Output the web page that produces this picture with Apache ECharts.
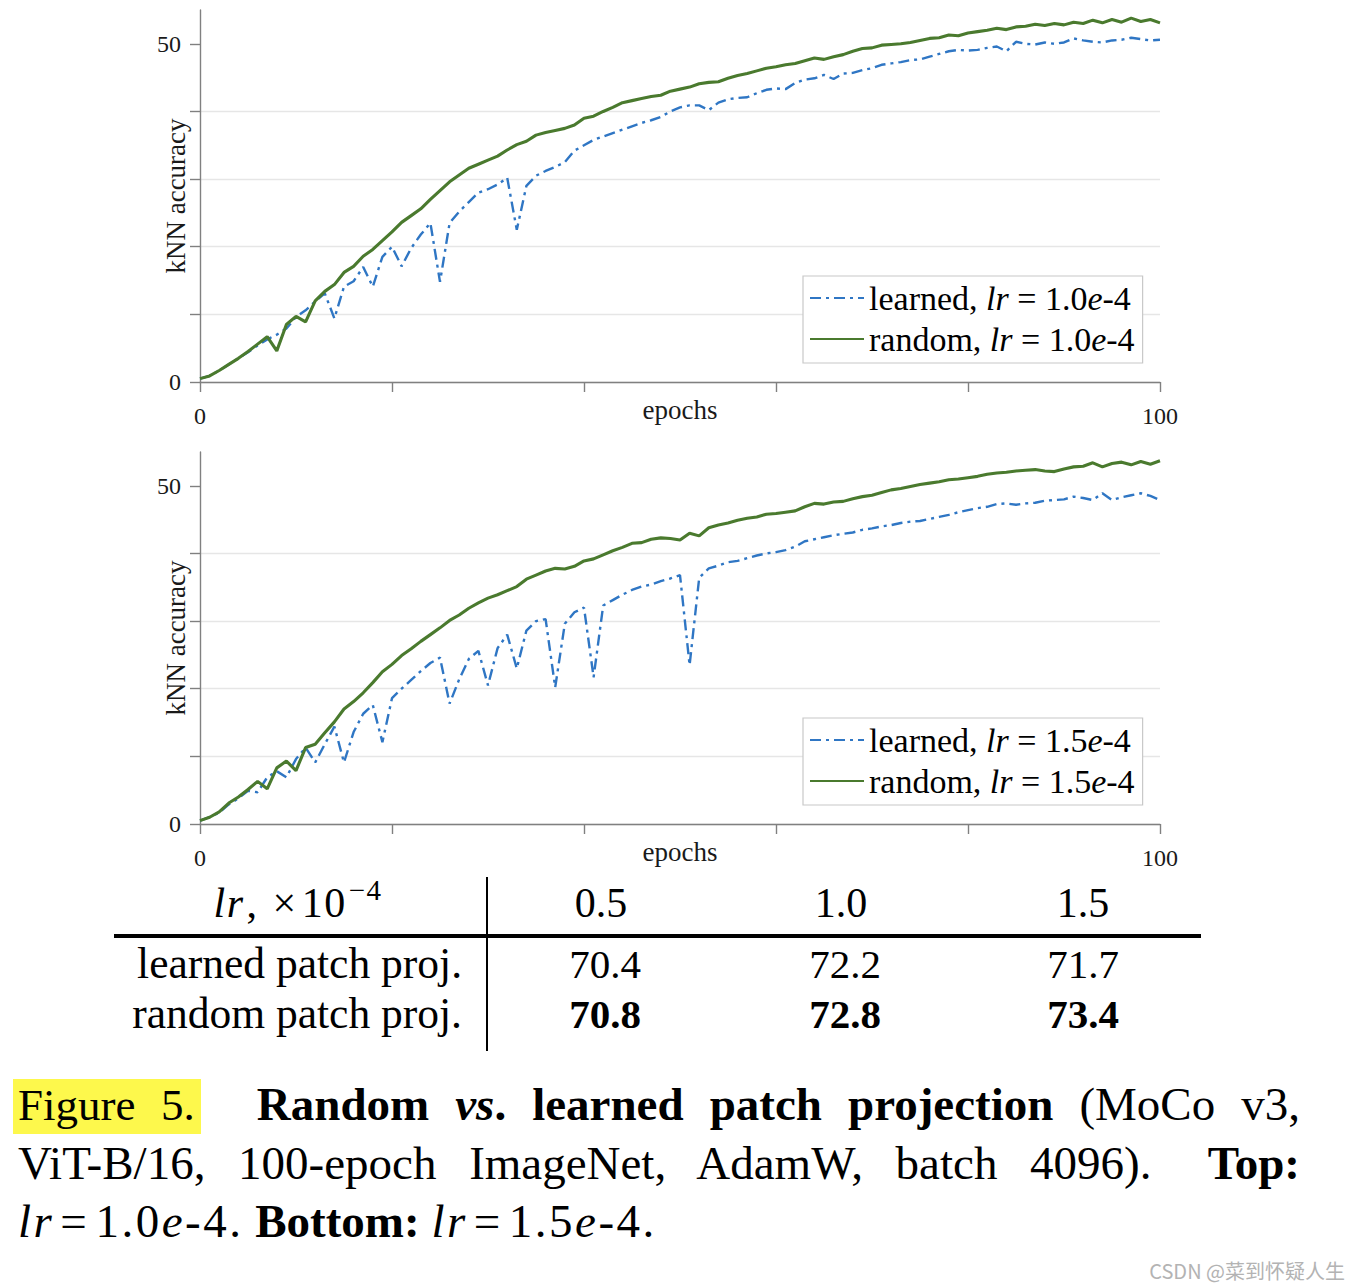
<!DOCTYPE html>
<html>
<head>
<meta charset="utf-8">
<script src="https://cdn.jsdelivr.net/npm/echarts@6/dist/echarts.min.js"></script>
<style>
html,body{margin:0;padding:0;background:#fff;}
body{width:1358px;height:1288px;position:relative;overflow:hidden;font-family:'Liberation Serif','Times New Roman',serif;color:#000;}
#chart{position:absolute;left:0;top:0;width:1358px;height:880px;}
.abs{position:absolute;white-space:nowrap;}
.hdr{font-size:42px;line-height:42px;top:882px;}
.row{font-size:41px;line-height:41px;}
.lab{font-size:43.5px;line-height:43.5px;left:0;width:462px;text-align:right;}
.c{text-align:center;width:200px;}
.cap{position:absolute;left:18px;width:1282px;font-size:47px;line-height:47px;text-align:justify;text-align-last:justify;}
.hl{background:#fdf84c;font-size:45px;padding:1px 6px 4px 5px;margin-left:-5px;margin-right:30px;}
.m{letter-spacing:2.5px;}
.eq{margin:0 6px;}
</style>
</head>
<body>
<div id="chart"></div>

<!-- table -->
<div class="abs" style="left:486px;top:877px;width:2px;height:174px;background:#000"></div>
<div class="abs" style="left:114px;top:934px;width:1087px;height:4px;background:#000"></div>
<div class="abs hdr" style="left:148px;width:300px;text-align:center;letter-spacing:1.5px"><i style="margin-right:2px">lr</i>,<span style="margin:0 4px 0 14px">×</span>10<span style="font-size:29px;position:relative;top:-17px;margin-left:2px">−4</span></div>
<div class="abs hdr c" style="left:501px">0.5</div>
<div class="abs hdr c" style="left:741px">1.0</div>
<div class="abs hdr c" style="left:983px">1.5</div>

<div class="abs lab" style="top:942px">learned patch proj.</div>
<div class="abs row c" style="left:505px;top:944px">70.4</div>
<div class="abs row c" style="left:745px;top:944px">72.2</div>
<div class="abs row c" style="left:983px;top:944px">71.7</div>

<div class="abs lab" style="top:992px">random patch proj.</div>
<div class="abs row c" style="left:505px;top:994px;font-weight:bold">70.8</div>
<div class="abs row c" style="left:745px;top:994px;font-weight:bold">72.8</div>
<div class="abs row c" style="left:983px;top:994px;font-weight:bold">73.4</div>

<!-- caption -->
<div class="cap" style="top:1081px"><span class="hl">Figure 5.</span> <b>Random <i>vs</i>. learned patch projection</b> (MoCo v3,</div>
<div class="cap" style="top:1140px">ViT-B/16, 100-epoch ImageNet, AdamW, batch 4096).&ensp; <b>Top:</b></div>
<div class="cap" style="top:1198px;text-align:left;text-align-last:left"><span class="m"><i>lr</i><span class="eq">=</span>1.0<i>e</i>-4.</span> <b>Bottom:</b> <span class="m"><i>lr</i><span class="eq">=</span>1.5<i>e</i>-4.</span></div>

<div class="abs" style="right:13px;top:1259px;font-family:'Noto Sans CJK SC','Noto Sans',sans-serif;font-size:20px;line-height:24px;color:#b3b3b3">CSDN @菜到怀疑人生</div>

<script>
// ---- data (index = epoch 0..100) ----
const X_TICK_LABELS = [0, 100];
const Y_TICK_LABELS = [0, 50];
const Y_TICKS = [0, 10, 20, 30, 40, 50];

const TOP_LEARNED = [
0.5,0.9,1.7,2.6,3.5,4.4,5.4,6.3,7.0,7.9,
9.6,10.6,11.9,13.1,9.4,14.1,14.9,17.0,14.1,18.5,
20.0,17.1,19.8,21.8,23.5,14.8,23.5,25.2,26.6,28.0,
28.5,29.2,30.2,22.5,29.0,30.5,31.2,31.8,32.5,34.2,
35.0,35.8,36.3,36.8,37.3,37.8,38.3,38.7,39.2,40.0,
40.6,40.9,40.9,40.2,41.3,41.8,42.0,42.1,42.7,43.2,
43.4,43.3,44.2,44.7,44.9,45.4,44.8,45.6,45.7,46.1,
46.4,46.9,47.1,47.3,47.6,47.7,48.1,48.5,48.9,49.1,
49.0,49.1,49.4,49.6,48.9,50.3,50.0,49.9,50.2,50.0,
50.2,50.8,50.5,50.3,50.2,50.5,50.6,50.9,50.7,50.5,50.6];

const TOP_RANDOM = [
0.5,0.9,1.7,2.6,3.5,4.5,5.6,6.7,4.6,8.5,
9.7,8.9,12.0,13.4,14.4,16.2,17.1,18.6,19.6,20.9,
22.2,23.6,24.6,25.6,27.0,28.3,29.6,30.6,31.6,32.2,
32.8,33.4,34.3,35.1,35.6,36.5,36.9,37.2,37.5,38.0,
39.0,39.3,40.0,40.6,41.3,41.6,41.9,42.2,42.4,43.0,
43.3,43.6,44.1,44.3,44.4,44.9,45.3,45.6,46.0,46.4,
46.6,46.9,47.1,47.5,47.9,47.7,48.1,48.4,48.9,49.3,
49.4,49.8,49.9,50.0,50.2,50.5,50.8,50.9,51.3,51.2,
51.6,51.8,52.0,52.3,52.1,52.5,52.6,52.9,52.7,53.0,
52.8,53.2,53.0,53.5,53.1,53.6,53.2,53.8,53.3,53.6,53.1];

const BOTTOM_LEARNED = [
0.5,1.0,1.7,2.9,3.8,4.9,4.7,6.9,7.8,6.9,
9.6,11.3,9.1,11.8,14.4,9.1,13.6,16.3,17.6,12.1,
18.6,20.0,21.3,22.6,23.8,24.6,17.8,21.4,24.4,25.6,
20.5,26.0,28.0,23.0,28.6,30.0,30.3,20.2,29.6,31.3,
32.0,21.7,32.3,33.1,33.9,34.6,35.1,35.4,35.9,36.3,
36.8,23.5,36.4,37.8,38.2,38.7,38.9,39.3,39.7,40.0,
40.2,40.5,41.0,41.8,42.1,42.4,42.7,42.9,43.1,43.5,
43.7,44.0,44.2,44.5,44.7,44.8,45.1,45.4,45.7,46.1,
46.4,46.7,46.9,47.3,47.4,47.2,47.4,47.5,47.8,47.9,
48.0,48.4,48.2,47.9,48.9,47.9,48.3,48.6,48.9,48.5,47.9];

const BOTTOM_RANDOM = [
0.5,1.0,1.8,3.1,4.0,5.1,6.3,5.2,8.3,9.3,
7.9,11.3,11.8,13.5,15.1,17.0,18.1,19.4,20.9,22.5,
23.6,24.9,25.9,27.0,28.0,29.0,30.1,30.9,31.9,32.7,
33.4,33.9,34.5,35.1,36.2,36.8,37.4,37.8,37.7,38.1,
38.9,39.2,39.8,40.4,40.9,41.5,41.6,42.1,42.3,42.2,
42.0,43.0,42.6,43.8,44.2,44.5,44.9,45.2,45.4,45.8,
45.9,46.1,46.3,46.9,47.4,47.3,47.6,47.7,48.1,48.4,
48.6,49.0,49.4,49.6,49.9,50.2,50.4,50.6,50.9,51.0,
51.2,51.4,51.7,51.9,52.0,52.2,52.3,52.4,52.2,52.1,
52.5,52.8,52.9,53.4,52.8,53.3,53.5,53.1,53.6,53.2,53.7];

const PANELS = [
  { learnedName: 'learned, lr=1.0e-4', randomName: 'random, lr=1.0e-4', learned: TOP_LEARNED, random: TOP_RANDOM },
  { learnedName: 'learned, lr=1.5e-4', randomName: 'random, lr=1.5e-4', learned: BOTTOM_LEARNED, random: BOTTOM_RANDOM }
];

// ---- layout / style ----
const FONT = "'Liberation Serif','Times New Roman',serif";
const BLUE = '#2f76c4', GREEN = '#4a7a2e';
const AXIS = '#808080', GRID = '#e6e6e6';
const GRID_POS = [{ top: 10, legendTop: 276 }, { top: 452, legendTop: 718 }];

function pairs(arr) { return arr.map((v, i) => [i, v]); }
function legendFmt(name) {
  const m = name.match(/^(\w+, )lr=([\d.]+)e(-\d)$/);
  return '{n|' + m[1] + '}{i|lr}{n| = ' + m[2] + '}{i|e}{n|' + m[3] + '}';
}

const option = { animation: false, grid: [], xAxis: [], yAxis: [], legend: [], series: [] };

PANELS.forEach((p, k) => {
  option.grid.push({ left: 200, width: 960, top: GRID_POS[k].top, height: 372, outerBoundsMode: 'none', containLabel: false });
  option.xAxis.push({
    type: 'value', gridIndex: k, min: 0, max: 100, interval: 20,
    axisLine: { show: true, onZero: false, lineStyle: { color: AXIS, width: 1.4 } },
    axisTick: { show: true, length: 10, lineStyle: { color: AXIS, width: 1.4 } },
    axisLabel: { margin: 22, fontSize: 24, fontFamily: FONT, color: '#1a1a1a',
      formatter: v => X_TICK_LABELS.includes(v) ? String(v) : '' },
    splitLine: { show: false },
    name: 'epochs', nameLocation: 'middle', nameGap: 14, nameMoveOverlap: false,
    nameTextStyle: { fontSize: 27, fontFamily: FONT, color: '#1a1a1a' }
  });
  option.yAxis.push({
    type: 'value', gridIndex: k, min: 0, max: 55, interval: 10,
    axisLine: { show: true, lineStyle: { color: AXIS, width: 1.4 } },
    axisTick: { show: true, length: 10, customValues: Y_TICKS, lineStyle: { color: AXIS, width: 1.4 } },
    axisLabel: { margin: 19, fontSize: 24, fontFamily: FONT, color: '#1a1a1a', customValues: Y_TICK_LABELS,
      formatter: v => Y_TICK_LABELS.includes(v) ? String(v) : '' },
    splitLine: { show: true, showMaxLine: false, lineStyle: { color: GRID, width: 1.3 } },
    name: 'kNN accuracy', nameLocation: 'middle', nameGap: 11, nameMoveOverlap: false,
    nameTextStyle: { fontSize: 27, fontFamily: FONT, color: '#1a1a1a' }
  });
  option.legend.push({
    orient: 'vertical', left: 803, top: GRID_POS[k].legendTop,
    padding: [4, 8, 6, 6], itemGap: 5, itemWidth: 54, itemHeight: 14,
    backgroundColor: '#fff', borderColor: '#c8c8c8', borderWidth: 1.2, borderRadius: 0,
    itemStyle: { opacity: 0 },
    selectedMode: false, data: [p.learnedName, p.randomName], formatter: legendFmt,
    textStyle: { fontFamily: FONT, fontSize: 34, color: '#000', lineHeight: 36,
      rich: { n: { fontFamily: FONT, fontSize: 34, color: '#000', lineHeight: 36 },
              i: { fontFamily: FONT, fontSize: 34, fontStyle: 'italic', color: '#000', lineHeight: 36 } } }
  });
  option.series.push({
    type: 'line', name: p.learnedName, xAxisIndex: k, yAxisIndex: k, data: pairs(p.learned),
    symbol: 'none', showSymbol: false, emphasis: { disabled: true }, z: 2,
    itemStyle: { color: BLUE }, lineStyle: { color: BLUE, width: 2.4, type: [11, 5, 3, 5] }
  });
  option.series.push({
    type: 'line', name: p.randomName, xAxisIndex: k, yAxisIndex: k, data: pairs(p.random),
    symbol: 'none', showSymbol: false, emphasis: { disabled: true }, z: 3,
    itemStyle: { color: GREEN }, lineStyle: { color: GREEN, width: 3.1 }
  });
});

const chart = echarts.init(document.getElementById('chart'), null, { renderer: 'svg' });
chart.setOption(option);
</script>
</body>
</html>
